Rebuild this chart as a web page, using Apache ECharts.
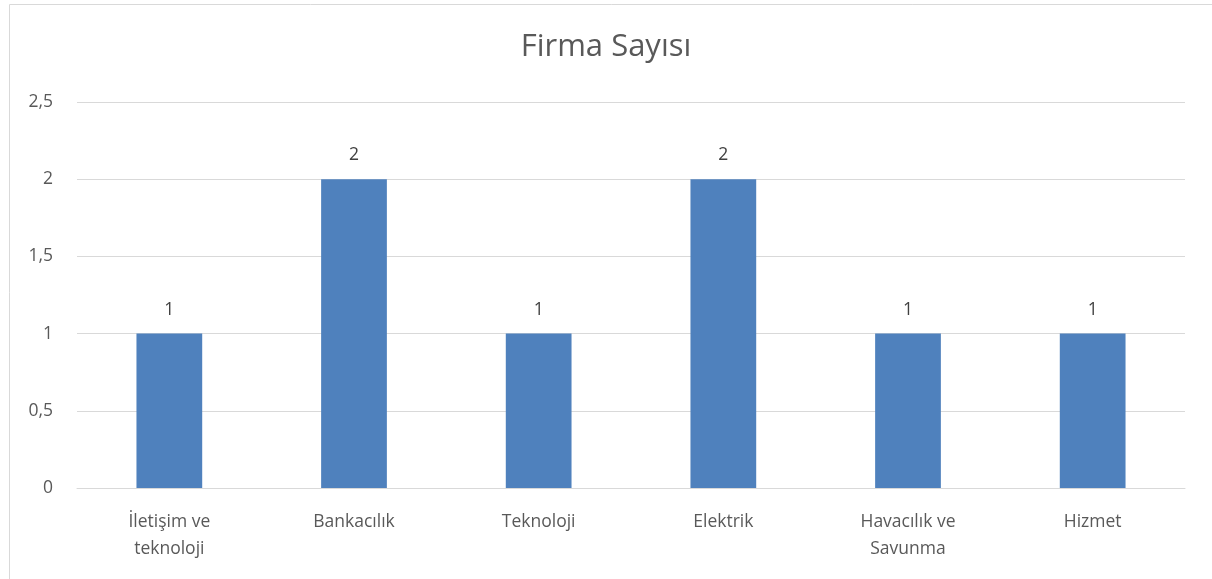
<!DOCTYPE html>
<html><head><meta charset="utf-8">
<script src="https://cdn.jsdelivr.net/npm/echarts@6/dist/echarts.min.js"></script>
<style>html,body{margin:0;padding:0;background:#fff}#c{width:1212px;height:579px}</style>
</head><body><div id="c"></div>
<script>
const title = 'Firma Sayısı';
const categories = ['İletişim ve teknoloji', 'Bankacılık', 'Teknoloji', 'Elektrik', 'Havacılık ve Savunma', 'Hizmet'];
const values = [1, 2, 1, 2, 1, 1];
const yTicks = [0, 0.5, 1, 1.5, 2, 2.5];

const chart = echarts.init(document.getElementById('c'), null, {renderer: 'canvas'});
const font = '"Open Sans", "Liberation Sans", sans-serif';
chart.setOption({
  animation: false,
  title: {
    text: title, left: 'center', top: 27,
    textStyle: {fontFamily: font, fontSize: 31, fontWeight: 'normal', color: '#595959'}
  },
  graphic: [{
    type: 'rect', left: 7, top: 2, shape: {width: 1210, height: 576},
    style: {fill: 'none', stroke: '#d9d9d9', lineWidth: 1}, silent: true
  }],
  grid: {left: 77, right: 27, top: 102, bottom: 91},
  xAxis: {
    type: 'category', data: categories,
    axisLine: {lineStyle: {color: '#d9d9d9', width: 1}},
    axisTick: {show: false},
    axisLabel: {
      interval: 0, margin: 21, fontFamily: font, fontSize: 17.5, color: '#595959', lineHeight: 27,
      formatter: v => v.replace(' ve ', ' ve\n')
    }
  },
  yAxis: {
    type: 'value', min: yTicks[0], max: yTicks[yTicks.length - 1], interval: 0.5,
    axisLine: {show: false}, axisTick: {show: false},
    splitLine: {lineStyle: {color: '#d9d9d9', width: 1}},
    axisLabel: {
      margin: 24, fontFamily: font, fontSize: 17.5, color: '#595959',
      formatter: v => String(v).replace('.', ',')
    }
  },
  series: [{
    type: 'bar', data: values, barWidth: '35.6%',
    itemStyle: {color: '#4f81bd'},
    label: {show: true, position: 'top', distance: 15, fontFamily: font, fontSize: 17.5, color: '#404040'}
  }]
});
</script></body></html>
